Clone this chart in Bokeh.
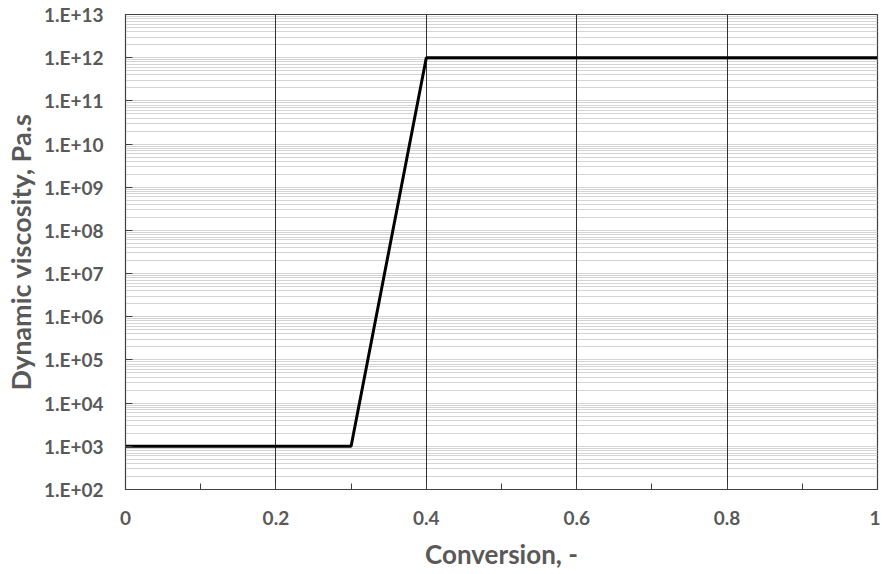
from bokeh.plotting import figure
from bokeh.models import FixedTicker, CustomJSTickFormatter, Range1d
from bokeh.embed import file_html
from bokeh.resources import INLINE

# data
conversion = [0.0, 0.3, 0.4, 1.0]
viscosity = [1e3, 1e3, 1e12, 1e12]
x_major = [0, 0.2, 0.4, 0.6, 0.8, 1.0]
x_minor = [0.1, 0.3, 0.5, 0.7, 0.9]
y_decades = list(range(2, 14))
y_major = [10.0 ** d for d in y_decades]
y_minor = [m * 10.0 ** d for d in y_decades[:-1] for m in range(2, 10)]

FONT = "Lato"
GREY = "#595959"

p = figure(width=880, height=572, y_axis_type="log", output_backend="svg",
           toolbar_location=None,
           x_range=Range1d(0, 1), y_range=Range1d(1e2, 1e13),
           min_border_left=125, min_border_top=14, min_border_bottom=82,
           min_border_right=3)

p.line(conversion, viscosity, line_color="black", line_width=3)

p.outline_line_color = "#404040"
p.outline_line_width = 1.2

# x axis
p.xaxis.ticker = FixedTicker(ticks=x_major, minor_ticks=x_minor)
p.xaxis.major_tick_in = 6
p.xaxis.major_tick_out = 0
p.xaxis.minor_tick_in = 6
p.xaxis.minor_tick_out = 0
p.xaxis.axis_line_color = "#404040"
p.xaxis.major_tick_line_color = "#404040"
p.xaxis.minor_tick_line_color = "#404040"
p.xaxis.axis_label = "Conversion, -"
p.xaxis.major_label_text_font = FONT
p.xaxis.major_label_text_font_style = "bold"
p.xaxis.major_label_text_font_size = "19px"
p.xaxis.major_label_text_color = GREY
p.xaxis.major_label_standoff = 21
p.xaxis.axis_label_text_font = FONT
p.xaxis.axis_label_text_font_style = "bold"
p.xaxis.axis_label_text_font_size = "26px"
p.xaxis.axis_label_text_color = GREY
p.xaxis.axis_label_standoff = 10

# y axis
p.yaxis.ticker = FixedTicker(ticks=y_major, minor_ticks=y_minor)
p.yaxis.formatter = CustomJSTickFormatter(
    code="var e = Math.round(Math.log10(tick)); return '1.E+' + String(e).padStart(2, '0');")
p.yaxis.major_tick_in = 7
p.yaxis.major_tick_out = 0
p.yaxis.minor_tick_in = 0
p.yaxis.minor_tick_out = 0
p.yaxis.axis_line_color = "#404040"
p.yaxis.major_tick_line_color = "#404040"
p.yaxis.axis_label = "Dynamic viscosity, Pa.s"
p.yaxis.major_label_text_font = FONT
p.yaxis.major_label_text_font_style = "bold"
p.yaxis.major_label_text_font_size = "19px"
p.yaxis.major_label_text_color = GREY
p.yaxis.major_label_standoff = 22
p.yaxis.axis_label_text_font = FONT
p.yaxis.axis_label_text_font_style = "bold"
p.yaxis.axis_label_text_font_size = "27px"
p.yaxis.axis_label_text_color = GREY
p.yaxis.axis_label_standoff = 4

# grids
p.xgrid.grid_line_color = "#303030"
p.xgrid.grid_line_width = 1
p.xgrid.minor_grid_line_color = None
p.ygrid.grid_line_color = "#d4d4d4"
p.ygrid.grid_line_width = 1
p.ygrid.minor_grid_line_color = "#d4d4d4"
p.ygrid.minor_grid_line_width = 1

# draw vertical grid lines above horizontal ones
xg = p.xgrid[0]
yg = p.ygrid[0]
p.center = [yg, xg] + [r for r in p.center if r not in (xg, yg)]

open("out.html", "w").write(file_html(p, INLINE))
